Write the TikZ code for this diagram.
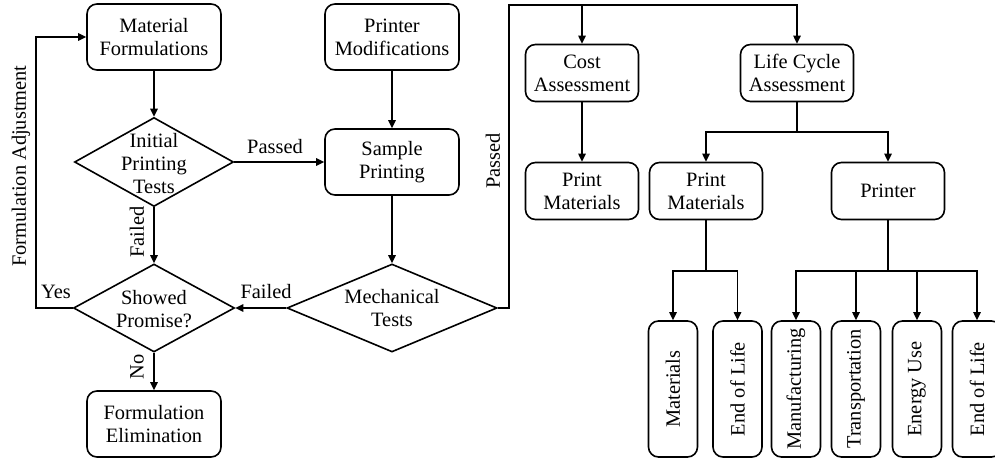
\documentclass[tikz,border=0pt]{standalone}
\usepackage{fontspec}
\setmainfont{Liberation Serif}
\usepackage{graphicx}
\usetikzlibrary{arrows.meta,shapes.geometric}
\begin{document}
\begin{tikzpicture}[x=0.75pt,y=-0.75pt,
  every node/.style={font=\fontsize{15.3}{17.25}\selectfont},
  box/.style={draw,line width=1.2pt,rounded corners=7.5pt,align=center,inner sep=0pt},
  bigbox/.style={box,minimum width=100.5pt,minimum height=49.5pt},
  midbox/.style={box,minimum width=84.75pt,minimum height=42.75pt},
  tallbox/.style={box,minimum width=36.75pt,minimum height=102pt},
  dia/.style={draw,line width=1.2pt,diamond,inner sep=0pt},
  lbl/.style={inner sep=1pt},
  ln/.style={line width=1.2pt},
  arr/.style={line width=1.2pt,-{Triangle[length=6pt,width=5.5pt]}}]
\useasboundingbox (0,0) rectangle (995,459);

% left column
\node[bigbox] (mf) at (154,37) {Material\\Formulations};
\node[dia,minimum width=119.25pt,minimum height=66.75pt] (d1) at (154,162) {};
\node[align=center] (d1t) at (154,164) {Initial\\Printing\\Tests};
\node[dia,minimum width=120.75pt,minimum height=66pt] (d2) at (154,308) {};
\node[align=center] (d2t) at (154,309) {Showed\\Promise?};
\node[bigbox] (fe) at (154,424) {Formulation\\Elimination};

% middle column
\node[bigbox] (pm) at (392,37) {Printer\\Modifications};
\node[bigbox] (sp) at (392,162) {Sample\\Printing};
\node[dia,minimum width=157.5pt,minimum height=66pt] (d3) at (392,308) {};
\node[align=center] (d3t) at (392,308) {Mechanical\\Tests};

% right part
\node[midbox] (cost) at (582,73) {Cost\\Assessment};
\node[midbox] (pmc) at (582,191) {Print\\Materials};
\node[midbox] (lca) at (797,73) {Life Cycle\\Assessment};
\node[midbox] (pml) at (706,191) {Print\\Materials};
\node[midbox] (pr) at (888,191) {Printer};

\node[tallbox] (mat) at (673,389) {\rotatebox{90}{Materials}};
\node[tallbox] (eol1) at (737.5,389) {\rotatebox{90}{End of Life}};
\node[tallbox] (man) at (796,389) {\rotatebox{90}{Manufacturing}};
\node[tallbox] (tra) at (856,389) {\rotatebox{90}{Transportation}};
\node[tallbox] (ene) at (917,389) {\rotatebox{90}{Energy Use}};
\node[tallbox] (eol2) at (977,389) {\rotatebox{90}{End of Life}};

% connectors left
\draw[arr] (mf) -- (d1);
\draw[arr] (d1) -- (d2);
\draw[arr] (d2) -- (fe);
\draw[arr] (d1.east) -- (sp.west);
\coordinate (fb) at (36,308);
\draw[arr] (d2.west) -- (fb) |- (mf.west);
\draw[arr] (pm) -- (sp);
\draw[arr] (sp) -- (d3);
\draw[arr] (d3.west) -- (d2.east);

% passed route
\coordinate (pc) at (509,5);
\draw[arr] (d3.east) -| (pc) -| (lca.north);
\draw[arr] (cost.north |- pc) -- (cost.north);
\draw[arr] (cost) -- (pmc);

% LCA tree
\coordinate (lb) at (797,132);
\draw[arr] (lca.south) -- (lb) -| (pml.north);
\draw[arr] (lb) -| (pr.north);
\coordinate (pb) at (706,271);
\draw[arr] (pml.south) -- (pb) -| (mat.north);
\draw[arr] (pb) -| (eol1.north);
\coordinate (rb) at (888,271);
\draw[arr] (pr.south) -- (rb) -| (man.north);
\draw[arr] (rb) -| (eol2.north);
\draw[arr] (tra.north |- rb) -- (tra.north);
\draw[arr] (ene.north |- rb) -- (ene.north);

% labels
\node[lbl] (lpass1) at (275,147) {Passed};
\node[lbl,rotate=90] (lfail1) at (137,232) {Failed};
\node[lbl,rotate=90] (lno) at (137,367) {No};
\node[lbl] (lyes) at (56,292) {Yes};
\node[lbl] (lfail2) at (266,292) {Failed};
\node[lbl,rotate=90] (lpass2) at (493,161) {Passed};
\node[lbl,rotate=90] (ladj) at (21,166) {Formulation Adjustment};
\end{tikzpicture}
\end{document}
